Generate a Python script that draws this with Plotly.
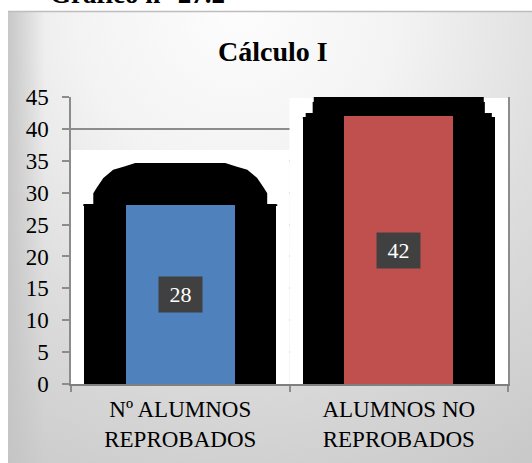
import base64
import plotly.graph_objects as go

# ---- data ----
categories = ["Nº ALUMNOS<br>REPROBADOS", "ALUMNOS NO<br>REPROBADOS"]
values = [28, 42]
bar_colors = ["#4F81BD", "#C0504D"]
shadow_base = [28.2, 41.9]
y_ticks = [0, 5, 10, 15, 20, 25, 30, 35, 40, 45]
chart_title = "Cálculo I"
caption = "Gráfico n° 27.2"

SERIF = "Liberation Serif, Times New Roman, serif"

# ---- layout geometry (pixels) ----
W, H = 532, 463
L, R, T, B = 71, 24, 97, 79
PW, PH = W - L - R, H - T - B

def px_to_paper_x(px):
    return (px - L) / PW

def px_to_paper_y(py):
    return (H - B - py) / PH

fig = go.Figure()

# black backdrop blocks behind bars
fig.add_trace(go.Bar(
    x=categories, y=shadow_base, width=0.88,
    marker=dict(color="#000000", line=dict(width=0)),
    hoverinfo="skip", showlegend=False,
))
fig.add_trace(go.Bar(
    x=categories, y=values, width=0.5,
    marker=dict(color=bar_colors, line=dict(width=0)),
    showlegend=False,
))

shapes = []
# white regions inside plot area (cover gridlines)
shapes.append(dict(type="rect", xref="x", yref="y", x0=-0.5, x1=0.5, y0=0, y1=36.7,
                   fillcolor="#FFFFFF", line=dict(width=0), layer="between"))
shapes.append(dict(type="rect", xref="x", yref="y", x0=0.5, x1=1.5, y0=0, y1=44.85,
                   fillcolor="#FFFFFF", line=dict(width=0), layer="between"))

def cap_path(center, half_pts, base):
    pts = [(center + dx, y) for dx, y in half_pts]
    mirrored = [(center - dx, y) for dx, y in reversed(half_pts)]
    allp = [(center + half_pts[0][0], base)] + pts + mirrored + [(center - half_pts[0][0], base)]
    d = "M " + " L ".join(f"{x:.4f},{y:.3f}" for x, y in allp) + " Z"
    return d

left_cap = [(-0.444, 28.2), (-0.398, 28.2), (-0.398, 29.9), (-0.38, 30.9), (-0.352, 32.3),
            (-0.307, 33.6), (-0.256, 34.1), (-0.206, 34.65)]
right_cap = [(-0.439, 41.86), (-0.426, 41.86), (-0.426, 42.5), (-0.394, 42.5),
             (-0.394, 44.2), (-0.389, 44.2), (-0.389, 45.0)]
shapes.append(dict(type="path", xref="x", yref="y", path=cap_path(0, left_cap, shadow_base[0] - 0.3),
                   fillcolor="#000000", line=dict(width=0), layer="between"))
shapes.append(dict(type="path", xref="x", yref="y", path=cap_path(1, right_cap, shadow_base[1] - 0.3),
                   fillcolor="#000000", line=dict(width=0), layer="between"))
# frame top border
shapes.append(dict(type="line", xref="paper", yref="paper",
                   x0=px_to_paper_x(8), x1=px_to_paper_x(532),
                   y0=px_to_paper_y(11.5), y1=px_to_paper_y(11.5),
                   line=dict(color="#BDBDBD", width=1.5), layer="below"))

# gradient frame background as svg
fw, fh = 524, 452
svg = f'''<svg xmlns="http://www.w3.org/2000/svg" width="{fw}" height="{fh}" viewBox="0 0 {fw} {fh}" preserveAspectRatio="none">
<defs>
<radialGradient id="g" gradientUnits="userSpaceOnUse" cx="230" cy="0" r="540">
<stop offset="0" stop-color="#FDFDFD"/>
<stop offset="0.3" stop-color="#F3F3F3"/>
<stop offset="0.6" stop-color="#DEDEDE"/>
<stop offset="1" stop-color="#C8C8C8"/>
</radialGradient>
<linearGradient id="e" x1="0" y1="0" x2="1" y2="0">
<stop offset="0" stop-color="#C4C4C4" stop-opacity="0.9"/>
<stop offset="0.07" stop-color="#C4C4C4" stop-opacity="0"/>
</linearGradient>
</defs>
<rect x="0" y="0" width="{fw}" height="{fh}" fill="url(#g)"/>
<rect x="0" y="0" width="{fw}" height="{fh}" fill="url(#e)"/>
</svg>'''
src = "data:image/svg+xml;base64," + base64.b64encode(svg.encode()).decode()

fig.add_layout_image(dict(
    source=src, xref="paper", yref="paper",
    x=px_to_paper_x(8), y=px_to_paper_y(11),
    sizex=fw / PW, sizey=fh / PH, sizing="stretch",
    xanchor="left", yanchor="top", layer="below",
))

annotations = []
for cat, v in zip(categories, values):
    annotations.append(dict(
        x=cat, y=v / 2, xref="x", yref="y", text=f"&nbsp;{v}&nbsp;", showarrow=False,
        font=dict(family=SERIF, size=22, color="#FFFFFF"),
        bgcolor="#404040", borderpad=5,
    ))
annotations.append(dict(
    x=px_to_paper_x(273), y=px_to_paper_y(52), xref="paper", yref="paper",
    text=f"<b>{chart_title}</b>", showarrow=False, xanchor="center", yanchor="middle",
    font=dict(family=SERIF, size=28, color="#000000"),
))
annotations.append(dict(
    x=px_to_paper_x(137), y=px_to_paper_y(11), xref="paper", yref="paper",
    text=f"<b>{caption}</b>", showarrow=False, xanchor="center", yanchor="bottom",
    font=dict(family=SERIF, size=27, color="#000000"),
))

fig.update_layout(
    width=W, height=H,
    margin=dict(l=L, r=R, t=T, b=B, pad=0, autoexpand=False),
    paper_bgcolor="#FFFFFF",
    plot_bgcolor="#EEEEEE",
    barmode="overlay",
    bargap=0,
    shapes=shapes,
    annotations=annotations,
    font=dict(family=SERIF, color="#000000"),
    xaxis=dict(
        type="category", range=[-0.5, 1.5], tickson="boundaries",
        ticks="outside", ticklen=6, tickcolor="#8C8C8C", tickwidth=1.5,
        showline=True, linecolor="#7F7F7F", linewidth=2, automargin=False,
        showgrid=False, tickfont=dict(family=SERIF, size=23, color="#000000"),
        ticklabelstandoff=3,
    ),
    yaxis=dict(
        range=[0, 45], tickvals=y_ticks, ticks="outside", ticklen=7,
        tickcolor="#8C8C8C", tickwidth=1.5, automargin=False,
        showline=True, linecolor="#8C8C8C", linewidth=1.5, mirror=True,
        showgrid=True, gridcolor="#8C8C8C", gridwidth=1.5, zeroline=False,
        tickfont=dict(family=SERIF, size=23, color="#000000"),
        ticklabelstandoff=9,
    ),
)

fig.write_html("out.html", config={"displayModeBar": False},
               post_script="document.body.style.margin='0px';")
